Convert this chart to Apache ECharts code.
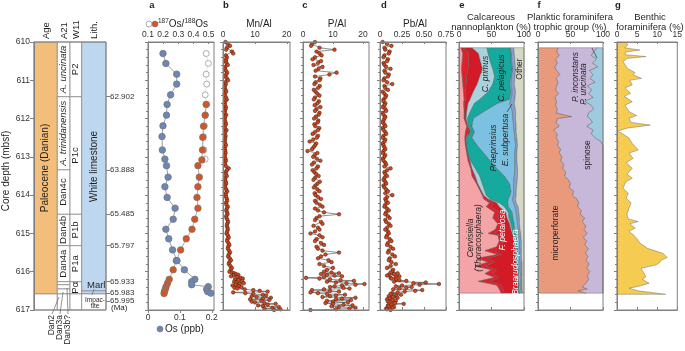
<!DOCTYPE html>
<html>
<head>
<meta charset="utf-8">
<script src="https://cdn.jsdelivr.net/npm/echarts@6/dist/echarts.min.js"></script>
<style>
html, body { margin: 0; padding: 0; background: #fff; }
#chart { width: 685px; height: 351px; }
</style>
</head>
<body>
<div id="chart"></div>
<script>
const FONT = 'Liberation Sans, Arial, Helvetica, sans-serif';
const AX = '#808080';
const TXT = '#231f20';

// ---- stratigraphic column: [column, top depth, bottom depth, label]
const stratCells = [
  [0, 610, 616.58, 'Paleocene (Danian)'],
  [0, 616.58, 617, ''],
  [1, 610, 611.43, 'A. uncinata'],
  [1, 611.43, 613.34, 'A. trinidanensis'],
  [1, 613.34, 614.5, 'Dan4c'],
  [1, 614.5, 615.32, 'Dan4b'],
  [1, 615.32, 616.26, 'Dan4a'],
  [1, 616.26, 616.34, ''],
  [1, 616.34, 616.45, ''],
  [1, 616.45, 616.58, ''],
  [1, 616.58, 617, ''],
  [2, 610, 611.43, 'P2'],
  [2, 611.43, 614.5, 'P1c'],
  [2, 614.5, 615.32, 'P1b'],
  [2, 615.32, 616.26, 'P1a'],
  [2, 616.26, 616.58, 'Pα'],
  [2, 616.58, 617, ''],
  [3, 610, 616.5, 'White limestone'],
  [3, 616.5, 616.58, ''],
  [3, 616.58, 617, '']
];
const ageDepth = [611.43, 613.34, 614.5, 615.32, 616.26, 616.56, 616.76];
const ageLabel = ['62.902', '63.888', '65.485', '65.797', '65.933', '65.983', '65.995'];

// ---- panel a: Os
const osDepth = [610.30, 610.56, 610.84, 611.10, 611.38, 611.63, 611.91, 612.19, 612.47, 612.82, 613.06, 613.23, 613.53, 613.78, 614.06, 614.34, 614.63, 614.89, 615.14, 615.43, 615.71, 615.95, 616.20, 616.26, 616.34, 616.39, 616.46, 616.52, 616.56];
const osPpb = [0.047, 0.056, 0.090, 0.090, 0.071, 0.060, 0.058, 0.047, 0.044, 0.045, 0.053, 0.058, 0.063, 0.053, 0.060, 0.085, 0.079, 0.056, 0.065, 0.077, 0.091, 0.114, 0.147, 0.137, 0.137, 0.189, 0.184, 0.187, 0.197];
const ratioOpenDepth = [610.30, 610.56, 610.84, 611.10, 611.38, 611.63, 611.91, 612.19, 612.47, 612.82, 613.06];
const ratioOpen = [0.483, 0.498, 0.483, 0.487, 0.477, 0.487, 0.477, 0.472, 0.466, 0.469, 0.477];
const ratioDepth = [611.63, 611.91, 612.20, 612.49, 612.82, 613.08, 613.23, 613.53, 613.78, 614.06, 614.34, 614.63, 614.89, 615.14, 615.43, 615.71, 615.95, 616.20, 616.30, 616.39, 616.46, 616.52, 616.57];
const ratioFilled = [0.483, 0.477, 0.466, 0.461, 0.459, 0.455, 0.429, 0.438, 0.429, 0.423, 0.429, 0.408, 0.390, 0.352, 0.315, 0.287, 0.266, 0.240, 0.229, 0.219, 0.214, 0.208, 0.206];

// ---- panels b-d: element ratios (two interleaved sample sets)
const xrfDepth = [610.0, 610.1, 610.2, 610.3, 610.4, 610.5, 610.6, 610.7, 610.8, 610.9,
  611.0, 611.1, 611.2, 611.3, 611.4, 611.5, 611.6, 611.7, 611.8, 611.9,
  612.0, 612.1, 612.2, 612.3, 612.4, 612.5, 612.6, 612.7, 612.8, 612.9,
  613.0, 613.1, 613.2, 613.3, 613.4, 613.5, 613.6, 613.7, 613.8, 613.9,
  614.0, 614.1, 614.2, 614.3, 614.4, 614.5, 614.6, 614.7, 614.8, 614.9,
  615.0, 615.1, 615.2, 615.3, 615.4, 615.5, 615.6, 615.7, 615.8, 615.9,
  616.0, 616.04, 616.08, 616.12, 616.16, 616.20, 616.24, 616.28, 616.32, 616.36,
  616.40, 616.44, 616.48, 616.52, 616.56, 616.60, 616.64, 616.68, 616.72, 616.76,
  616.80, 616.84, 616.88, 616.92, 616.96, 617.0];
const mnAl = [0.8, 2.2, 1.0, 3.2, 1.2, 0.8, 1.5, 0.6, 1.3, 0.7,
  1.6, 0.9, 0.5, 1.0, 0.6, 1.2, 0.5, 0.9, 0.6, 1.0,
  0.5, 0.8, 0.6, 1.1, 0.5, 0.7, 0.5, 0.9, 0.6, 0.8,
  0.5, 0.9, 0.6, 1.8, 0.8, 1.2, 0.6, 1.0, 0.7, 1.3,
  0.8, 1.2, 0.9, 1.5, 1.0, 1.4, 1.1, 1.6, 1.2, 1.5,
  1.1, 1.8, 1.3, 2.0, 1.5, 2.2, 1.6, 2.5, 1.8, 2.8,
  2.0, 3.5, 4.8, 2.5, 5.5, 3.8, 6.0, 4.2, 5.2, 3.0,
  5.8, 4.5, 9.5, 14.0, 7.0, 12.5, 9.0, 15.0, 8.5, 12.0,
  10.0, 16.5, 11.0, 17.5, 13.0, 16.0];
const pAl = [4.0, 2.7, 10.5, 5.5, 4.0, 6.0, 3.5, 5.2, 11.2, 4.0,
  5.5, 3.8, 5.0, 4.2, 5.5, 3.6, 4.8, 5.8, 4.0, 5.2,
  3.7, 4.9, 4.1, 5.0, 3.2, 4.6, 2.2, 4.0, 3.0, 4.8,
  3.4, 5.8, 3.0, 4.5, 3.8, 5.2, 3.5, 4.8, 3.6, 5.5,
  4.2, 6.0, 4.5, 6.5, 5.0, 12.0, 4.5, 6.0, 3.5, 5.5,
  2.5, 6.5, 4.0, 7.0, 5.0, 12.0, 6.0, 8.5, 5.5, 10.0,
  7.0, 12.0, 8.0, 13.0, 1.0, 9.0, 17.0, 11.0, 20.5, 13.0,
  9.0, 15.5, 3.0, 12.0, 5.0, 14.0, 9.0, 17.5, 11.0, 8.0,
  15.0, 10.0, 16.5, 12.0, 15.5, 2.5];
const pbAl = [0.03, 0.13, 0.06, 0.10, 0.04, 0.08, 0.05, 0.12, 0.06, 0.09,
  0.04, 0.14, 0.06, 0.03, 0.07, 0.04, 0.06, 0.03, 0.07, 0.04,
  0.05, 0.03, 0.06, 0.04, 0.07, 0.03, 0.05, 0.04, 0.06, 0.03,
  0.05, 0.04, 0.07, 0.12, 0.05, 0.08, 0.04, 0.07, 0.05, 0.09,
  0.14, 0.06, 0.09, 0.05, 0.10, 0.06, 0.11, 0.07, 0.12, 0.06,
  0.10, 0.07, 0.13, 0.08, 0.15, 0.09, 0.17, 0.10, 0.18, 0.08,
  0.14, 0.20, 0.10, 0.22, 0.12, 0.18, 0.30, 0.52, 0.67, 0.25,
  0.36, 0.22, 0.48, 0.28, 0.14, 0.24, 0.10, 0.20, 0.08, 0.18,
  0.12, 0.27, 0.09, 0.16, 0.07, 0.12];
const xrfDepth2 = [610.05, 610.15, 610.25, 610.35, 610.45, 610.55, 610.65, 610.75, 610.85, 610.95,
  611.05, 611.15, 611.25, 611.35, 611.45, 611.55, 611.65, 611.75, 611.85, 611.95,
  612.05, 612.15, 612.25, 612.35, 612.45, 612.55, 612.65, 612.75, 612.85, 612.95,
  613.05, 613.15, 613.25, 613.35, 613.45, 613.55, 613.65, 613.75, 613.85, 613.95,
  614.05, 614.15, 614.25, 614.35, 614.45, 614.55, 614.65, 614.75, 614.85, 614.95,
  615.05, 615.15, 615.25, 615.35, 615.45, 615.55, 615.65, 615.75, 615.85, 615.95,
  616.02, 616.06, 616.10, 616.14, 616.18, 616.22, 616.26, 616.30, 616.34, 616.38,
  616.42, 616.46, 616.50, 616.54, 616.58, 616.62, 616.66, 616.70, 616.74, 616.78,
  616.82, 616.86, 616.90, 616.94, 616.98];
const mnAl2 = [1.5, 1.2, 2.8, 0.9, 1.0, 1.1, 0.7, 0.9, 1.0, 1.2,
  0.7, 0.6, 0.8, 0.5, 0.9, 0.7, 0.6, 0.8, 0.5, 0.7,
  0.6, 0.9, 0.5, 0.7, 0.8, 0.6, 0.7, 0.5, 0.7, 0.6,
  0.8, 0.6, 1.0, 1.2, 0.9, 0.7, 0.9, 0.6, 1.0, 0.9,
  1.0, 1.3, 1.1, 1.2, 1.3, 1.0, 1.4, 1.3, 1.4, 1.3,
  1.5, 1.4, 1.7, 1.6, 1.9, 1.8, 2.1, 2.0, 2.3, 2.4,
  2.8, 4.0, 3.2, 4.5, 6.2, 4.8, 3.5, 6.5, 4.0, 5.0,
  3.6, 6.8, 11.5, 3.2, 9.5, 13.5, 10.5, 12.5, 14.5, 9.0,
  13.0, 14.0, 12.5, 15.5, 18.0];
const pAl2 = [3.0, 5.5, 4.5, 6.2, 3.2, 5.0, 6.5, 4.2, 8.8, 5.8,
  4.2, 5.6, 3.6, 4.8, 4.0, 5.3, 3.9, 4.5, 5.5, 4.3,
  5.1, 3.8, 5.4, 4.0, 5.0, 3.4, 4.4, 3.5, 1.5, 3.9,
  4.6, 3.6, 5.0, 3.2, 4.4, 4.0, 5.6, 4.1, 4.8, 3.9,
  5.0, 4.0, 5.6, 4.0, 7.0, 5.5, 4.0, 6.5, 5.0, 4.0,
  5.5, 4.5, 6.0, 4.5, 6.5, 7.5, 5.0, 9.5, 7.0, 8.0,
  9.5, 6.0, 10.5, 7.0, 5.5, 12.5, 8.0, 14.5, 17.5, 10.5,
  13.5, 7.0, 9.0, 2.5, 8.0, 11.0, 6.5, 13.0, 16.0, 10.0,
  7.5, 13.5, 9.5, 17.5, 11.0];
const pbAl2 = [0.08, 0.05, 0.11, 0.05, 0.09, 0.04, 0.07, 0.05, 0.10, 0.05,
  0.08, 0.05, 0.09, 0.05, 0.06, 0.04, 0.05, 0.06, 0.03, 0.06,
  0.04, 0.05, 0.03, 0.06, 0.04, 0.06, 0.03, 0.05, 0.04, 0.06,
  0.03, 0.06, 0.05, 0.08, 0.06, 0.05, 0.06, 0.04, 0.07, 0.06,
  0.08, 0.07, 0.06, 0.08, 0.07, 0.09, 0.06, 0.10, 0.08, 0.09,
  0.08, 0.11, 0.09, 0.12, 0.10, 0.14, 0.11, 0.13, 0.12, 0.15,
  0.12, 0.16, 0.08, 0.18, 0.13, 0.22, 0.16, 0.38, 0.45, 0.18,
  0.30, 0.15, 0.40, 0.20, 0.12, 0.18, 0.15, 0.11, 0.14, 0.09,
  0.17, 0.13, 0.10, 0.14, 0.08];

// ---- panel e: calcareous nannoplankton (%)
const eDepth = [610.15, 610.3, 610.5, 610.7, 610.9, 611.1, 611.3, 611.5, 611.6, 611.8,
  612.0, 612.2, 612.35, 612.5, 612.7, 612.9, 613.1, 613.3, 613.5, 613.7,
  613.9, 614.0, 614.1, 614.2, 614.3, 614.45, 614.6, 614.75, 614.9, 615.0,
  615.05, 615.2, 615.35, 615.45, 615.55, 615.65, 615.75, 615.85, 615.95, 616.05,
  616.15, 616.25, 616.35, 616.45, 616.56];
const cervisiella = [3, 6, 5, 4, 5, 6, 7, 8, 7, 8, 8, 12, 10, 9, 10, 12, 14, 18, 20, 27, 33, 36, 38, 47, 42, 55, 52, 60, 56, 45, 60, 62, 58, 40, 60, 28, 45, 25, 50, 40, 55, 30, 58, 62, 65];
const fPetalosa = [5, 9, 10, 10, 7, 5, 3, 2, 2, 1, 1, 1, 5, 1, 1, 1, 2, 1, 4, 1, 1, 1, 3, 5, 8, 7, 8, 6, 7, 10, 5, 6, 7, 15, 6, 17, 10, 15, 8, 12, 7, 18, 7, 6, 5];
const braarudosphaera = [12, 15, 18, 22, 20, 17, 12, 7, 5, 3, 2, 1, 3, 1, 0.5, 0.5, 1, 1, 1, 1, 1, 1, 4, 6, 12, 10, 14, 12, 17, 27, 18, 17, 21, 33, 21, 41, 33, 47, 31, 38, 26, 42, 26, 21, 22];
const cPrimus = [23, 15, 15, 16, 23, 24, 23, 15, 10, 6, 2, 1, 1, 1, 0.5, 0.5, 1, 5, 7, 7, 5, 4, 3, 4, 8, 4, 3, 2, 2, 2, 2, 2, 2, 1, 1, 2, 1, 2, 1, 1, 1, 1, 1, 1, 1];
const cPelagicus = [35, 35, 32, 30, 25, 26, 35, 46, 36, 22, 9, 5, 5, 8, 16, 24, 30, 33, 38, 42, 40, 37, 28, 13, 6, 6, 6, 5, 4, 4, 3, 3, 2, 2, 2, 2, 2, 2, 2, 1, 2, 1, 1, 2, 1];
const praeprinsius = [1, 1, 1, 1, 1, 2, 2, 2, 18, 42, 61, 64, 61, 66, 59, 48, 38, 28, 15, 6, 4, 5, 6, 9, 10, 6, 6, 5, 5, 4, 4, 3, 3, 3, 3, 3, 3, 3, 2, 3, 3, 3, 2, 3, 2];
const eSubpertusa = [5, 4, 5, 4, 5, 5, 5, 6, 7, 5, 4, 4, 3, 3, 3, 3, 3, 4, 5, 5, 4, 4, 5, 4, 5, 4, 4, 3, 3, 3, 3, 3, 3, 2, 3, 3, 3, 3, 3, 2, 3, 2, 2, 2, 2];
const otherNanno = [16, 15, 14, 13, 14, 15, 13, 14, 15, 13, 13, 12, 12, 11, 10, 11, 11, 10, 10, 11, 12, 12, 13, 12, 9, 8, 7, 7, 6, 5, 5, 4, 4, 4, 4, 4, 3, 3, 3, 3, 3, 3, 3, 3, 2];

// ---- panel f: planktic foraminifera trophic group (%)
const fDepth = [610.15, 610.25, 610.35, 610.45, 610.55, 610.65, 610.75, 610.85, 610.95, 611.05,
  611.15, 611.25, 611.35, 611.45, 611.55, 611.65, 611.75, 611.85, 611.95, 612.0,
  612.1, 612.2, 612.3, 612.4, 612.5, 612.6, 612.7, 612.8, 612.9, 613.0,
  613.1, 613.2, 613.3, 613.4, 613.5, 613.6, 613.7, 613.8, 613.9, 614.0,
  614.1, 614.2, 614.3, 614.4, 614.5, 614.6, 614.7, 614.8, 614.9, 615.0,
  615.1, 615.2, 615.3, 615.4, 615.5, 615.6, 615.7, 615.8, 615.9, 616.0,
  616.1, 616.2, 616.3, 616.4, 616.45, 616.5, 616.56];
const microperforate = [31, 29, 33, 27, 30, 26, 29, 34, 28, 31, 29, 27, 32, 26, 29, 27, 30, 28, 52, 30,
  28, 33, 24, 30, 28, 32, 30, 35, 33, 37, 35, 40, 38, 43, 41, 47, 50, 48, 55, 53,
  60, 63, 61, 67, 65, 72, 68, 74, 71, 76, 70, 75, 72, 78, 73, 77, 74, 79, 75, 80,
  76, 78, 74, 68, 76, 62, 74];
const spinose = [61, 57, 49, 63, 54, 66, 50, 51, 52, 57, 47, 56, 46, 59, 43, 55, 56, 50, 24, 50,
  56, 42, 61, 52, 60, 65, 70, 65, 67, 63, 65, 60, 62, 57, 59, 53, 50, 52, 45, 47,
  40, 37, 39, 33, 35, 28, 32, 26, 29, 24, 30, 25, 28, 22, 27, 23, 26, 21, 25, 20,
  24, 22, 26, 32, 24, 38, 26];
const pInconstans = [8, 14, 18, 10, 16, 8, 21, 15, 20, 12, 24, 17, 22, 15, 28, 18, 14, 22, 24, 20,
  16, 25, 15, 18, 12, 3, 0, 0, 0, 0, 0, 0, 0, 0, 0, 0, 0, 0, 0, 0,
  0, 0, 0, 0, 0, 0, 0, 0, 0, 0, 0, 0, 0, 0, 0, 0, 0, 0, 0, 0,
  0, 0, 0, 0, 0, 0, 0];

// ---- panel g: benthic foraminifera (%)
const gDepth = [610.01, 610.08, 610.15, 610.21, 610.26, 610.33, 610.38, 610.43, 610.51, 610.69,
  610.8, 610.86, 610.95, 611.0, 611.12, 611.2, 611.34, 611.42, 611.56, 611.65,
  611.82, 611.92, 611.99, 612.1, 612.17, 612.25, 612.33, 612.37, 612.51, 612.65,
  612.82, 612.9, 613.04, 613.15, 613.3, 613.45, 613.56, 613.65, 613.82, 613.95,
  614.08, 614.2, 614.34, 614.5, 614.62, 614.69, 614.75, 614.86, 614.95, 615.05,
  615.13, 615.25, 615.39, 615.52, 615.63, 615.7, 615.77, 615.82, 615.91, 616.0,
  616.13, 616.2, 616.3, 616.38, 616.43, 616.5, 616.59];
const benthic = [2.3, 2.7, 1.9, 5.7, 2.2, 2.0, 7.2, 2.5, 1.5, 2.6,
  4.5, 4.0, 6.1, 3.2, 3.8, 2.0, 3.4, 1.8, 3.8, 2.0,
  3.0, 4.9, 3.0, 3.5, 8.3, 2.5, 0.0, 1.0, 3.0, 3.8,
  5.3, 3.0, 4.0, 2.3, 3.8, 2.5, 3.8, 2.2, 1.5, 2.8,
  2.3, 3.5, 3.0, 2.5, 2.8, 5.3, 3.2, 4.5, 3.0, 4.2,
  4.9, 5.7, 7.6, 11.4, 12.5, 11.0, 10.5, 9.8, 6.0, 6.5,
  7.2, 6.3, 8.0, 5.5, 3.0, 5.3, 12.1];

// layout / style
const colEdges = [0, 23.3, 36, 47.7, 72];
const nannoLayers = [cervisiella, fPetalosa, braarudosphaera, cPrimus, cPelagicus, praeprinsius, eSubpertusa, otherNanno];
const nannoColors = ['#f4a4a6', '#e0202b', '#d31b27', '#a9d3dc', '#16a99d', '#7cc1e1', '#8a9fd3', '#d4d9c6'];
const foramLayers = [microperforate, spinose, pInconstans];
const foramColors = ['#e99a7c', '#c7b8da', '#9fcbe0'];

const zip = (xs, ys) => xs.map((x, i) => [x, ys[i]]);
const merged = (v1, d1, v2, d2) => zip(v1, d1).concat(zip(v2, d2)).sort((a, b) => a[1] - b[1]);

function stackRender(depths, layers, colors) {
  return function (params, api) {
    const k = params.dataIndex;
    const left = [], right = [];
    for (let i = 0; i < depths.length; i++) {
      let lo = 0;
      for (let j = 0; j < k; j++) lo += layers[j][i];
      left.push(api.coord([lo, depths[i]]));
      right.push(api.coord([lo + layers[k][i], depths[i]]));
    }
    return {
      type: 'polygon',
      shape: { points: left.concat(right.reverse()) },
      style: { fill: colors[k], stroke: '#555', lineWidth: 0.4 }
    };
  };
}

function cellRender(params, api) {
  const c = stratCells[params.dataIndex];
  const p0 = api.coord([colEdges[c[0]], c[1]]);
  const p1 = api.coord([colEdges[c[0] + 1], c[2]]);
  const w = p1[0] - p0[0], h = p1[1] - p0[1];
  let fill = '#fff';
  if (c[0] === 0 && c[3]) fill = '#f3be7a';
  if (c[0] === 3 && c[2] <= 616.58) fill = '#bdd8ee';
  const children = [{
    type: 'rect', shape: { x: p0[0], y: p0[1], width: w, height: h },
    style: { fill: fill, stroke: '#8c8c8c', lineWidth: 0.8 }
  }];
  if (c[3]) {
    const italic = c[3].indexOf('A. ') === 0;
    children.push({
      type: 'text', x: p0[0] + w / 2, y: p0[1] + h / 2, rotation: Math.PI / 2,
      style: {
        text: c[3], align: 'center', verticalAlign: 'middle', fill: TXT,
        font: (italic ? 'italic ' : '') + (c[0] === 0 || c[0] === 3 ? '10px ' : '9.5px ') + FONT
      }
    });
  }
  return { type: 'group', children: children };
}

function topAxis(g, min, max, ticks, fmt) {
  return {
    type: 'value', gridIndex: g, position: 'top', min: min, max: max, z: 10,
    axisLine: { show: true, lineStyle: { color: AX, width: 1 } },
    axisTick: { show: true, inside: true, length: 2, customValues: ticks, lineStyle: { color: AX } },
    axisLabel: { show: true, customValues: ticks, margin: 3, fontSize: 8.5, color: '#333', fontFamily: FONT, formatter: fmt, hideOverlap: false },
    splitLine: { show: false }
  };
}
function bottomAxis(g, min, max, ticks, labels, fmt) {
  return {
    type: 'value', gridIndex: g, position: 'bottom', min: min, max: max, z: 10,
    axisLine: { show: true, lineStyle: { color: AX, width: 1 } },
    axisTick: { show: true, inside: !labels, length: 3, customValues: ticks, lineStyle: { color: AX } },
    axisLabel: { show: !!labels, customValues: ticks, margin: 3, fontSize: 8.5, color: '#333', fontFamily: FONT, formatter: fmt },
    splitLine: { show: false }
  };
}
function depthAxis(g) {
  return {
    type: 'value', gridIndex: g, inverse: true, min: 610, max: 617, interval: 1, z: 10,
    axisLine: { show: true, lineStyle: { color: AX } },
    axisTick: { show: true, length: 3, lineStyle: { color: AX } },
    minorTick: { show: true, splitNumber: 5, length: 2, lineStyle: { color: AX } },
    axisLabel: { show: false }, splitLine: { show: false }, minorSplitLine: { show: false }
  };
}
// age markers on the right of the column; split over two axes so close labels both stay visible
function ageAxis(values) {
  return {
    type: 'value', gridIndex: 0, inverse: true, min: 610, max: 617, position: 'right', z: 10,
    axisLine: { show: false },
    axisTick: { show: true, length: 4, customValues: values, lineStyle: { color: AX } },
    axisLabel: {
      customValues: values, fontSize: 8, color: '#333', fontFamily: FONT, margin: 4, hideOverlap: false,
      formatter: v => { const i = ageDepth.findIndex(d => Math.abs(d - v) < 1e-6); return i >= 0 ? ageLabel[i] : ''; }
    },
    splitLine: { show: false }
  };
}
const f1 = v => (v === 0 ? '0' : v.toFixed(1));
const f2 = v => (v === 0 ? '0' : v.toFixed(2));
const f0 = v => String(v);

const panelLeft = [34, 148, 223, 303, 380, 459, 538, 617];
const panelWidth = [72, 66, 67, 66, 66, 65, 65, 66];
const grid = panelLeft.map((l, i) => ({
  left: l, top: 42, width: panelWidth[i], height: 268,
  show: true, borderColor: AX, borderWidth: 1, backgroundColor: 'transparent', z: 10
}));

const xAxis = [
  { type: 'value', gridIndex: 0, min: 0, max: 72, show: false },
  topAxis(1, 0.1, 0.535, [0.1, 0.2, 0.3, 0.4, 0.5], f1),
  bottomAxis(1, 0, 0.207, [0, 0.1, 0.2], true, f1),
  topAxis(2, 0, 21, [0, 10, 20], f0),
  bottomAxis(2, 0, 21, [0, 10, 20], false, f0),
  topAxis(3, 0, 22, [0, 10, 20], f0),
  bottomAxis(3, 0, 22, [0, 10, 20], false, f0),
  topAxis(4, 0, 0.75, [0, 0.25, 0.5, 0.75], f2),
  bottomAxis(4, 0, 0.75, [0, 0.25, 0.5, 0.75], false, f2),
  topAxis(5, 0, 100, [0, 50, 100], f0),
  bottomAxis(5, 0, 100, [0, 50, 100], false, f0),
  topAxis(6, 0, 100, [0, 50, 100], f0),
  bottomAxis(6, 0, 100, [0, 50, 100], false, f0),
  topAxis(7, 0, 15, [0, 5, 10, 15], f0),
  bottomAxis(7, 0, 15, [0, 5, 10, 15], false, f0)
];

const yAxis = [];
for (let g = 1; g <= 7; g++) yAxis.push(depthAxis(g));
yAxis.push({
  type: 'value', gridIndex: 0, inverse: true, min: 610, max: 617, interval: 1, position: 'left', z: 10,
  axisLine: { show: true, lineStyle: { color: AX } },
  axisTick: { show: true, length: 4, lineStyle: { color: AX } },
  axisLabel: { fontSize: 8.5, color: '#333', fontFamily: FONT, margin: 4 },
  splitLine: { show: false }
});
yAxis.push(ageAxis(ageDepth.filter((_, i) => i % 2 === 0)));
yAxis.push(ageAxis(ageDepth.filter((_, i) => i % 2 === 1)));

const dotStyle = { color: '#d9481d', borderColor: '#2e1a12', borderWidth: 0.5 };
function profile(xi, yi, vals, vals2) {
  return {
    type: 'line', xAxisIndex: xi, yAxisIndex: yi, data: merged(vals, xrfDepth, vals2, xrfDepth2),
    symbol: 'circle', symbolSize: 3.6, showAllSymbol: true, itemStyle: dotStyle,
    lineStyle: { color: '#444', width: 0.6 }, animation: false
  };
}

const series = [
  { type: 'custom', xAxisIndex: 0, yAxisIndex: 7, renderItem: cellRender,
    data: stratCells.map(c => [colEdges[c[0]], c[1]]), animation: false },
  { type: 'line', xAxisIndex: 1, yAxisIndex: 0, data: zip(ratioOpen, ratioOpenDepth),
    symbol: 'circle', symbolSize: 6, itemStyle: { color: '#fff', borderColor: '#999', borderWidth: 0.8 },
    lineStyle: { color: '#aaa', width: 0.6, type: 'dotted' }, animation: false },
  { type: 'line', xAxisIndex: 1, yAxisIndex: 0, data: zip(ratioFilled, ratioDepth),
    symbol: 'circle', symbolSize: 6.5, itemStyle: { color: '#d9531f', borderColor: '#777', borderWidth: 0.8 },
    lineStyle: { color: '#888', width: 0.7 }, animation: false },
  { type: 'line', xAxisIndex: 2, yAxisIndex: 0, data: zip(osPpb, osDepth),
    symbol: 'circle', symbolSize: 6.5, itemStyle: { color: '#6b87b7', borderColor: '#777', borderWidth: 0.8 },
    lineStyle: { color: '#777', width: 0.7 }, animation: false },
  profile(3, 1, mnAl, mnAl2),
  profile(5, 2, pAl, pAl2),
  profile(7, 3, pbAl, pbAl2),
  { type: 'custom', xAxisIndex: 9, yAxisIndex: 4, renderItem: stackRender(eDepth, nannoLayers, nannoColors),
    data: nannoLayers.map((_, i) => [i, eDepth[0]]), animation: false },
  { type: 'custom', xAxisIndex: 11, yAxisIndex: 5, renderItem: stackRender(fDepth, foramLayers, foramColors),
    data: foramLayers.map((_, i) => [i, fDepth[0]]), animation: false },
  { type: 'custom', xAxisIndex: 13, yAxisIndex: 6, renderItem: stackRender(gDepth, [benthic], ['#f5cb52']),
    data: [[0, gDepth[0]]], animation: false }
];

// text & annotation overlay
function txt(x, y, text, o) {
  o = o || {};
  return {
    type: 'text', x: x, y: y, rotation: o.rot ? Math.PI / 2 : 0, z: 20,
    style: {
      text: text, fill: o.fill || TXT, align: o.align || 'center', verticalAlign: o.va || 'middle',
      font: (o.italic ? 'italic ' : '') + (o.bold ? 'bold ' : '') + (o.size || 9) + 'px ' + FONT,
      rich: o.rich
    }
  };
}
function seg(x1, y1, x2, y2, c) {
  return { type: 'line', z: 20, shape: { x1: x1, y1: y1, x2: x2, y2: y2 }, style: { stroke: c || '#666', lineWidth: 0.7 } };
}

const graphic = [
  txt(152, 5, 'a', { bold: true, size: 9.5 }), txt(226, 5, 'b', { bold: true, size: 9.5 }),
  txt(305, 5, 'c', { bold: true, size: 9.5 }), txt(384, 5, 'd', { bold: true, size: 9.5 }),
  txt(462, 5, 'e', { bold: true, size: 9.5 }), txt(539, 5, 'f', { bold: true, size: 9.5 }),
  txt(618, 5, 'g', { bold: true, size: 9.5 }),
  txt(259, 24, 'Mn/Al', { size: 10 }), txt(337, 24, 'P/Al', { size: 10 }), txt(415, 24, 'Pb/Al', { size: 10 }),
  txt(491, 17, 'Calcareous', { size: 9.5 }), txt(491, 27, 'nannoplankton (%)', { size: 9.5 }),
  txt(570, 17, 'Planktic foraminifera', { size: 9.5 }), txt(570, 27, 'trophic group (%)', { size: 9.5 }),
  txt(650, 17, 'Benthic', { size: 9.5 }), txt(650, 27, 'foraminifera (%)', { size: 9.5 }),
  { type: 'circle', z: 20, shape: { cx: 149, cy: 24, r: 3 }, style: { fill: '#fff', stroke: '#999', lineWidth: 0.8 } },
  { type: 'circle', z: 20, shape: { cx: 155, cy: 24, r: 3 }, style: { fill: '#d9531f', stroke: '#777', lineWidth: 0.6 } },
  txt(158, 24, '{s|187}Os/{s|188}Os', { align: 'left', size: 10,
    rich: { s: { fontSize: 6.5, fontFamily: FONT, fill: TXT, padding: [0, 0, 5, 0] } } }),
  { type: 'circle', z: 20, shape: { cx: 160, cy: 329, r: 3 }, style: { fill: '#6b87b7', stroke: '#777', lineWidth: 0.6 } },
  txt(165, 329, 'Os (ppb)', { align: 'left', size: 10 }),
  txt(6, 171, 'Core depth (mbsf)', { rot: true, size: 10 }),
  txt(46, 39, 'Age', { rot: true, align: 'left', size: 9.5 }),
  txt(64, 39, 'A21', { rot: true, align: 'left', size: 9.5 }),
  txt(76, 39, 'W11', { rot: true, align: 'left', size: 9.5 }),
  txt(94, 39, 'Lith.', { rot: true, align: 'left', size: 9.5 }),
  txt(87, 285, 'Marl', { align: 'left', size: 9.5 }), seg(94, 289, 92, 295),
  txt(95, 300.5, 'Impac-', { size: 6.5 }), txt(95, 306.5, 'tite', { size: 6.5 }),
  txt(111, 308, '(Ma)', { align: 'left', size: 8 }),
  txt(52, 315, 'Dan2', { rot: true, align: 'right', size: 8.5 }), seg(52, 314, 59, 297),
  txt(60, 315, 'Dan3a', { rot: true, align: 'right', size: 8.5 }), seg(60, 314, 63, 292),
  txt(68, 315, 'Dan3b?', { rot: true, align: 'right', size: 8.5 }), seg(68, 314, 67, 288),
  txt(486, 74, 'C. primus', { rot: true, italic: true, size: 8.5 }),
  txt(502, 78, 'C. pelagicus', { rot: true, italic: true, size: 8.5 }),
  txt(520, 69, 'Other', { rot: true, size: 8.5 }),
  txt(494, 148, 'Praeprinsius', { rot: true, italic: true, size: 8.5 }),
  txt(506, 140, 'E. subpertusa', { rot: true, italic: true, size: 8.5 }), seg(507, 112, 512, 104, '#333'),
  txt(471, 238, 'Cervisiella', { rot: true, italic: true, size: 8.5 }),
  txt(479, 238, '(Thoracosphaera)', { rot: true, italic: true, size: 8.5 }),
  txt(503, 230, 'F. petalosa', { rot: true, italic: true, size: 8.5, fill: '#fff' }),
  txt(516, 262, 'Braarudosphaera', { rot: true, italic: true, size: 8.5, fill: '#fff' }),
  txt(576, 77, 'P. inconstans', { rot: true, italic: true, size: 8.5 }),
  txt(584, 84, 'P. uncinata', { rot: true, italic: true, size: 8.5 }), seg(592, 48, 597, 58, '#333'),
  txt(588, 155, 'spinose', { rot: true, size: 8.5 }),
  txt(556, 233, 'microperforate', { rot: true, size: 8.5 })
];

const chart = echarts.init(document.getElementById('chart'));
chart.setOption({
  animation: false,
  backgroundColor: '#fff',
  textStyle: { fontFamily: FONT },
  grid: grid, xAxis: xAxis, yAxis: yAxis, series: series, graphic: graphic
});
</script>
</body>
</html>
